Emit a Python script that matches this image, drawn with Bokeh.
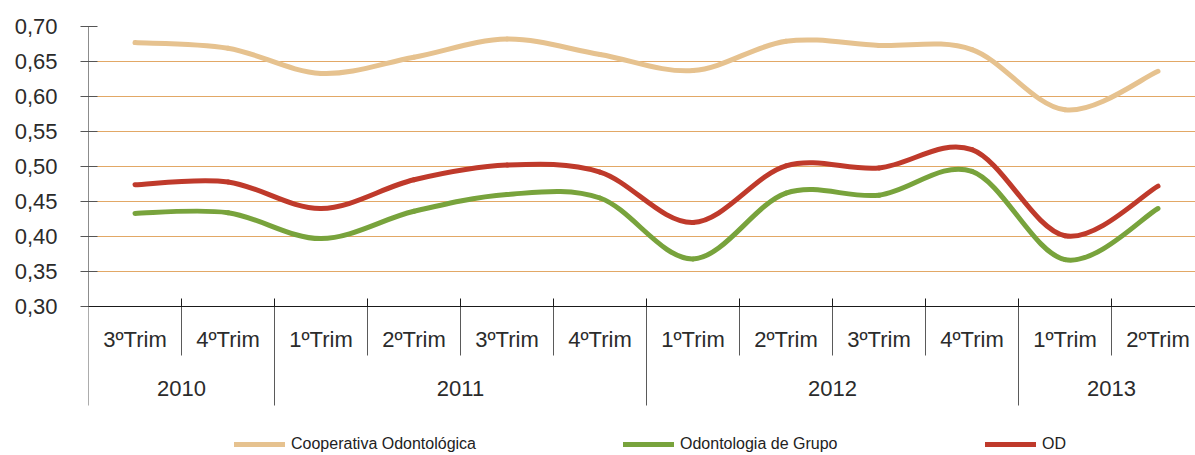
from bokeh.plotting import figure
from bokeh.models import Range1d, FixedTicker, Span, Legend, LegendItem, ColumnDataSource
from bokeh.core.properties import value
from bokeh.embed import file_html
from bokeh.resources import INLINE

# ---- data ----
quarters = ["3ºTrim", "4ºTrim", "1ºTrim", "2ºTrim", "3ºTrim", "4ºTrim",
            "1ºTrim", "2ºTrim", "3ºTrim", "4ºTrim", "1ºTrim", "2ºTrim"]
years = ["2010", "2011", "2012", "2013"]
year_counts = [2, 4, 4, 2]
coop = [0.677, 0.669, 0.633, 0.656, 0.682, 0.660, 0.637, 0.679, 0.673, 0.667, 0.581, 0.636]
grupo = [0.433, 0.434, 0.397, 0.436, 0.460, 0.455, 0.368, 0.462, 0.459, 0.493, 0.367, 0.440]
od = [0.474, 0.478, 0.440, 0.481, 0.502, 0.492, 0.420, 0.501, 0.498, 0.524, 0.401, 0.472]
series_names = ["Cooperativa Odontológica", "Odontologia de Grupo", "OD"]
y_ticks = [0.30, 0.35, 0.40, 0.45, 0.50, 0.55, 0.60, 0.65, 0.70]
y_labels = ["0,30", "0,35", "0,40", "0,45", "0,50", "0,55", "0,60", "0,65", "0,70"]

# ---- layout constants ----
W, H = 1195, 455
LEFT, TOP = 88, 26
PX_PER_UNIT = 700.0      # 0.05 per 35 px
CAT_W = 93.0             # px per category
frame_w = W - LEFT
frame_h = H - TOP
y_top = 0.70
y_bot = y_top - frame_h / PX_PER_UNIT
x_end = frame_w / CAT_W

def py(px_below_axis):
    """value at px below the 0.30 baseline"""
    return 0.30 - px_below_axis / PX_PER_UNIT

COLORS = ["#E6C28F", "#78A33C", "#BF3A2B"]
FONT = "Liberation Sans"

p = figure(width=W, height=H, output_backend="svg", toolbar_location=None,
           x_axis_type=None, x_range=Range1d(0, x_end), y_range=Range1d(y_bot, y_top),
           min_border_left=LEFT, min_border_top=TOP, min_border_right=0, min_border_bottom=0)
p.outline_line_color = None
p.background_fill_color = "white"

# y axis
ax = p.yaxis[0]
ax.ticker = FixedTicker(ticks=y_ticks)
ax.major_label_overrides = {t: l for t, l in zip(y_ticks, y_labels)}
ax.axis_line_color = None
ax.major_tick_out = 8
ax.major_tick_in = 9
ax.major_tick_line_color = "#555555"
ax.minor_tick_line_color = None
ax.major_label_standoff = 23
ax.major_label_text_font = FONT
ax.major_label_text_font_size = "22px"
ax.major_label_text_color = "#2b2b2b"
p.ygrid.grid_line_color = "#E2A866"
p.ygrid.grid_line_width = 1
p.xgrid.visible = False

# baseline axis line at 0.30
p.add_layout(Span(location=0.30, dimension="width", line_color="#1a1a1a", line_width=1))

# separators
tick_top = 0.30 + 8 / PX_PER_UNIT
n = len(quarters)
bounds_year = [0]
for c in year_counts:
    bounds_year.append(bounds_year[-1] + c)
quarter_bounds = [b for b in range(1, n) if b not in bounds_year]
year_bounds = [b for b in bounds_year if b < n]
tb = [b for b in range(1, n)]
p.segment(x0=tb, y0=[0.30] * len(tb), x1=tb, y1=[tick_top] * len(tb),
          line_color="#1a1a1a", line_width=1)
p.segment(x0=quarter_bounds, y0=[0.30] * len(quarter_bounds), x1=quarter_bounds,
          y1=[py(49)] * len(quarter_bounds), line_color="#5a5a5a", line_width=1)
p.segment(x0=year_bounds, y0=[0.30] * len(year_bounds), x1=year_bounds,
          y1=[py(99)] * len(year_bounds), line_color="#5a5a5a", line_width=1)
p.segment(x0=[0], y0=[0.30], x1=[0], y1=[y_top], line_color="#1a1a1a", line_width=1)

# category labels
p.text(x=[i + 0.5 for i in range(n)], y=[py(33)] * n, text=quarters,
       text_font=value(FONT), text_font_size="22px", text_color="#2b2b2b",
       text_align="center", text_baseline="middle")
year_centers = [(bounds_year[i] + bounds_year[i + 1]) / 2 for i in range(len(years))]
p.text(x=year_centers, y=[py(82)] * len(years), text=years,
       text_font=value(FONT), text_font_size="22px", text_color="#2b2b2b",
       text_align="center", text_baseline="middle")

# smooth lines via bezier segments from the data
def bezier_source(vals):
    xs = [i + 0.5 for i in range(len(vals))]
    pts = list(zip(xs, vals))
    d = dict(x0=[], y0=[], x1=[], y1=[], cx0=[], cy0=[], cx1=[], cy1=[])
    for i in range(len(pts) - 1):
        p0 = pts[i - 1] if i > 0 else pts[i]
        p1 = pts[i]
        p2 = pts[i + 1]
        p3 = pts[i + 2] if i + 2 < len(pts) else pts[i + 1]
        d["x0"].append(p1[0]); d["y0"].append(p1[1])
        d["x1"].append(p2[0]); d["y1"].append(p2[1])
        d["cx0"].append(p1[0] + (p2[0] - p0[0]) / 6); d["cy0"].append(p1[1] + (p2[1] - p0[1]) / 6)
        d["cx1"].append(p2[0] - (p3[0] - p1[0]) / 6); d["cy1"].append(p2[1] - (p3[1] - p1[1]) / 6)
    return ColumnDataSource(d)

renderers = []
for vals, col in zip([coop, grupo, od], COLORS):
    r = p.bezier(x0="x0", y0="y0", x1="x1", y1="y1", cx0="cx0", cy0="cy0", cx1="cx1", cy1="cy1",
                 source=bezier_source(vals), line_color=col, line_width=5, line_cap="round")
    renderers.append(r)

legend_x = [146, 535, 897]
for name, r, lx in zip(series_names, renderers, legend_x):
    lg = Legend(items=[LegendItem(label=name, renderers=[r], index=0)], location=(lx, 1),
                orientation="horizontal", padding=0, margin=0, spacing=0,
                glyph_width=51, glyph_height=20, label_standoff=6,
                label_text_font=FONT, label_text_font_size="16px",
                label_text_color="#222222", border_line_color=None,
                background_fill_alpha=0)
    p.add_layout(lg)

open("out.html", "w").write(file_html(p, INLINE))
